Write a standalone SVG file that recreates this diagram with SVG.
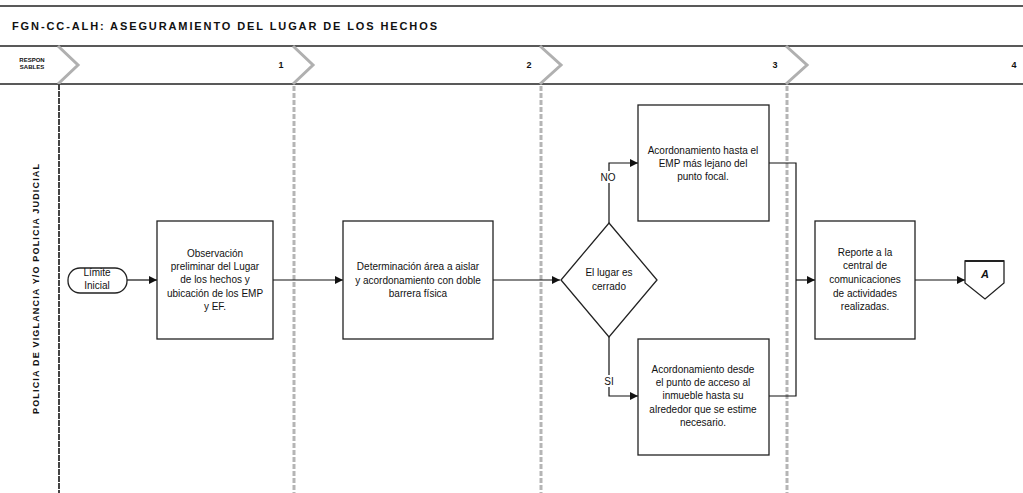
<svg xmlns="http://www.w3.org/2000/svg" width="1023" height="493" viewBox="0 0 1023 493">
<style>
text{font-family:"Liberation Sans",Arial,sans-serif;fill:#111;}
.t{font-size:10px;text-anchor:middle;}
.box{fill:#fff;stroke:#222;stroke-width:1.3;}
.ln{fill:none;stroke:#111;stroke-width:1.2;}
.chev{fill:none;stroke:#b0b0b0;stroke-width:3;}
.gdash{stroke:#b5b5b5;stroke-width:3;stroke-dasharray:5,2;}
.hdr{stroke:#222;stroke-width:1.5;}
.num{font-size:9px;font-weight:bold;text-anchor:middle;}
</style>
<defs>
<marker id="ar" viewBox="0 0 10 10" refX="10" refY="5" markerWidth="8" markerHeight="8" markerUnits="userSpaceOnUse" orient="auto">
<path d="M0,0 L10,5 L0,10 z" fill="#111"/>
</marker>
</defs>
<rect width="1023" height="493" fill="#fff"/>
<g id="header">
<line x1="0" y1="6" x2="1023" y2="6" class="hdr"/>
<text x="12" y="30" font-size="11" font-weight="bold" textLength="425" lengthAdjust="spacing">FGN-CC-ALH:  ASEGURAMIENTO DEL LUGAR DE LOS HECHOS</text>
<line x1="0" y1="46" x2="1023" y2="46" class="hdr"/>
<line x1="0" y1="84" x2="1023" y2="84" class="hdr"/>
<text x="32" y="62" font-size="6" font-weight="bold" text-anchor="middle">RESPON</text>
<text x="32" y="69" font-size="6" font-weight="bold" text-anchor="middle">SABLES</text>
<path class="chev" d="M58,46 L78,65 L58,84"/>
<path class="chev" d="M293,46 L313,65 L293,84"/>
<path class="chev" d="M540,46 L561,65 L540,84"/>
<path class="chev" d="M786,46 L807,65 L786,84"/>
<text class="num" x="281" y="68">1</text>
<text class="num" x="529" y="68">2</text>
<text class="num" x="775" y="68">3</text>
<text class="num" x="1014" y="68">4</text>
</g>
<g id="lanes">
<line x1="59" y1="84" x2="59" y2="493" stroke="#444" stroke-width="2" stroke-dasharray="6,1"/>
<line x1="294" y1="86" x2="294" y2="493" class="gdash"/>
<line x1="541" y1="86" x2="541" y2="493" class="gdash"/>
<line x1="787" y1="86" x2="787" y2="493" class="gdash"/>
<text transform="translate(39,289) rotate(-90)" font-size="9" font-weight="bold" text-anchor="middle" textLength="250" lengthAdjust="spacing">POLICIA DE VIGLANCIA Y/O POLICIA JUDICIAL</text>
</g>
<g id="connectors">
<line class="ln" x1="127" y1="280" x2="157" y2="280" marker-end="url(#ar)"/>
<line class="ln" x1="273" y1="280" x2="343" y2="280" marker-end="url(#ar)"/>
<line class="ln" x1="493" y1="280" x2="560" y2="280" marker-end="url(#ar)"/>
<polyline class="ln" points="609,223 609,163 638,163" marker-end="url(#ar)"/>
<polyline class="ln" points="609,337 609,396 638,396" marker-end="url(#ar)"/>
<polyline class="ln" points="769,163 796,163 796,396 769,396"/>
<line class="ln" x1="796" y1="280" x2="815" y2="280" marker-end="url(#ar)"/>
<line class="ln" x1="915" y1="280" x2="965" y2="280" marker-end="url(#ar)"/>
<rect x="599" y="171" width="20" height="12" fill="#fff"/>
<text x="608" y="181" font-size="10" text-anchor="middle">NO</text>
<rect x="601" y="375" width="16" height="12" fill="#fff"/>
<text x="609" y="385" font-size="10" text-anchor="middle">SI</text>
</g>
<g id="start">
<rect x="68" y="268" width="59" height="25" rx="12" ry="12" class="box"/>
<text class="t" x="97" y="276">Límite</text>
<text class="t" x="97" y="289">Inicial</text>
</g>
<g id="n1">
<rect x="157" y="221" width="116" height="118" class="box"/>
<text class="t" x="215" y="257">Observación</text>
<text class="t" x="215" y="270">preliminar del Lugar</text>
<text class="t" x="215" y="283">de los hechos y</text>
<text class="t" x="215" y="297">ubicación de los EMP</text>
<text class="t" x="215" y="310">y EF.</text>
</g>
<g id="n2">
<rect x="343" y="221" width="150" height="118" class="box"/>
<text class="t" x="418" y="270">Determinación área a aislar</text>
<text class="t" x="418" y="284">y acordonamiento con doble</text>
<text class="t" x="418" y="297">barrera física</text>
</g>
<g id="d1">
<polygon points="609,223 657,280 609,337 561,280" class="box"/>
<text class="t" x="609" y="276">El lugar es</text>
<text class="t" x="609" y="290">cerrado</text>
</g>
<g id="n3">
<rect x="638" y="105" width="131" height="116" class="box"/>
<text class="t" x="703" y="154">Acordonamiento hasta el</text>
<text class="t" x="703" y="167">EMP más lejano del</text>
<text class="t" x="703" y="180">punto focal.</text>
</g>
<g id="n4">
<rect x="638" y="339" width="131" height="116" class="box"/>
<text class="t" x="703" y="373">Acordonamiento desde</text>
<text class="t" x="703" y="386">el punto de acceso al</text>
<text class="t" x="703" y="399">inmueble hasta su</text>
<text class="t" x="703" y="413">alrededor que se estime</text>
<text class="t" x="703" y="426">necesario.</text>
</g>
<g id="n5">
<rect x="815" y="221" width="100" height="118" class="box"/>
<text class="t" x="865" y="256">Reporte a la</text>
<text class="t" x="865" y="269">central de</text>
<text class="t" x="865" y="283">comunicaciones</text>
<text class="t" x="865" y="297">de actividades</text>
<text class="t" x="865" y="310">realizadas.</text>
</g>
<g id="offpage">
<polygon points="965,261 1004,261 1004,283 985,299 965,283" class="box"/>
<line x1="965" y1="261" x2="1004" y2="261" stroke="#222" stroke-width="2"/>
<text x="985" y="278" font-size="11" font-weight="bold" font-style="italic" text-anchor="middle">A</text>
</g>
</svg>
